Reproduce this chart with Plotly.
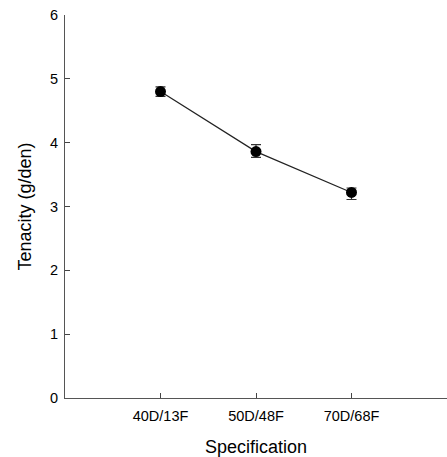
import plotly.graph_objects as go

categories = ["40D/13F", "50D/48F", "70D/68F"]
x_pos = [1, 2, 3]
tenacity = [4.80, 3.86, 3.22]
err_plus = [0.075, 0.11, 0.07]
err_minus = [0.075, 0.09, 0.11]
y_ticks = [0, 1, 2, 3, 4, 5, 6]

fig = go.Figure()
fig.add_trace(go.Scatter(
    x=x_pos, y=tenacity, mode="lines+markers",
    line=dict(color="#222222", width=1.2),
    marker=dict(color="black", size=11),
    error_y=dict(type="data", array=err_plus, arrayminus=err_minus,
                 color="#333333", thickness=1.2, width=5),
    showlegend=False,
))

font = "Liberation Sans, Arial, sans-serif"
fig.update_layout(
    width=447, height=457,
    margin=dict(l=65, r=0, t=15, b=59),
    paper_bgcolor="white", plot_bgcolor="white",
    font=dict(family=font, color="black"),
    xaxis=dict(
        range=[0, 4], tickmode="array", tickvals=x_pos, ticktext=categories,
        ticks="inside", ticklen=5, tickcolor="#444444",
        showline=True, linecolor="#555555", linewidth=1, showgrid=False,
        zeroline=False, tickfont=dict(size=14.5), ticklabelstandoff=5,
        title=dict(text="Specification", font=dict(size=18), standoff=17),
    ),
    yaxis=dict(
        range=[0, 6], tickvals=y_ticks,
        ticks="inside", ticklen=5, tickcolor="#444444",
        showline=True, linecolor="#555555", linewidth=1, showgrid=False,
        zeroline=False, tickfont=dict(size=14.5), ticklabelstandoff=3,
        title=dict(text="Tenacity (g/den)", font=dict(size=18), standoff=13),
    ),
)

fig.write_html("out.html")
